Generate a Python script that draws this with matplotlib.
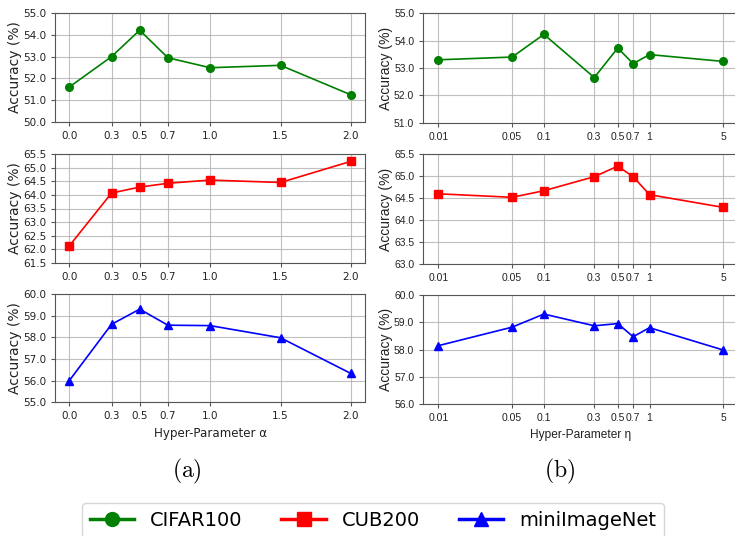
import matplotlib
matplotlib.use("Agg")
import matplotlib.pyplot as plt
from matplotlib.lines import Line2D
from matplotlib.ticker import NullLocator, FormatStrFormatter

plt.rcParams['mathtext.fontset'] = 'cm'

# Hyper-parameter alpha (left column)
alpha = [0.0, 0.3, 0.5, 0.7, 1.0, 1.5, 2.0]
alpha_labels = ['0.0', '0.3', '0.5', '0.7', '1.0', '1.5', '2.0']
cifar_alpha = [51.60, 53.00, 54.22, 52.95, 52.49, 52.60, 51.24]
cub_alpha = [62.12, 64.07, 64.29, 64.43, 64.55, 64.46, 65.24]
mini_alpha = [56.00, 58.60, 59.30, 58.56, 58.54, 57.98, 56.33]

# Hyper-parameter eta (right column)
eta = [0.01, 0.05, 0.1, 0.3, 0.5, 0.7, 1, 5]
eta_labels = ['0.01', '0.05', '0.1', '0.3', '0.5', '0.7', '1', '5']
cifar_eta = [53.30, 53.40, 54.23, 52.65, 53.73, 53.16, 53.49, 53.24]
cub_eta = [64.60, 64.52, 64.67, 64.99, 65.23, 64.99, 64.58, 64.29]
mini_eta = [58.14, 58.82, 59.30, 58.87, 58.95, 58.47, 58.80, 57.98]

series_names = ['CIFAR100', 'CUB200', 'miniImageNet']
colors = ['green', 'red', 'blue']
markers = ['o', 's', '^']

left_ylims = [(50.0, 55.0, 1.0), (61.5, 65.5, 0.5), (55.0, 60.0, 1.0)]
right_ylims = [(51.0, 55.0, 1.0), (63.0, 65.5, 0.5), (56.0, 60.0, 1.0)]

W, H = 735, 536
fig = plt.figure(figsize=(W / 100, H / 100), dpi=100)


def px_axes(x0, x1, y0, y1):
    # pixel box (top-left origin) -> figure axes
    return fig.add_axes([x0 / W, 1 - y1 / H, (x1 - x0) / W, (y1 - y0) / H])


def style(ax, family, lo, hi, step):
    n = int(round((hi - lo) / step))
    ax.set_ylim(lo, hi)
    ax.set_yticks([lo + i * step for i in range(n + 1)])
    ax.yaxis.set_major_formatter(FormatStrFormatter('%.1f'))
    ax.grid(True, color='#b0b0b0', lw=0.8, alpha=0.8)
    ax.set_axisbelow(True)
    for s in ax.spines.values():
        s.set_color('#555555')
    ax.tick_params(labelsize=7.5, colors='#555555', labelcolor='#222222',
                   length=3, width=0.8)
    for lbl in ax.get_xticklabels() + ax.get_yticklabels():
        lbl.set_fontfamily(family)
    ax.set_ylabel('Accuracy (%)', fontsize=10, family=family, color='#222222')


left_rows = [(13.3, 121.7), (154.3, 262.7), (294.0, 402.3)]
right_rows = [(13.3, 122.7), (154.3, 264.0), (295.0, 404.0)]
left_data = [cifar_alpha, cub_alpha, mini_alpha]
right_data = [cifar_eta, cub_eta, mini_eta]

for i in range(3):
    # left column: linear alpha axis
    ax = px_axes(55.2, 365.0, *left_rows[i])
    ax.plot(alpha, left_data[i], color=colors[i], marker=markers[i],
            ms=5.5, lw=1.2)
    ax.set_xlim(-0.1, 2.1)
    ax.set_xticks(alpha)
    ax.set_xticklabels(alpha_labels)
    style(ax, 'DejaVu Sans', *left_ylims[i])
    ax.yaxis.set_label_coords(-0.107, 0.5)
    if i == 2:
        ax.set_xlabel('Hyper-Parameter α', fontsize=8.6, color='#222222')

    # right column: log eta axis
    ax = px_axes(423.3, 737.6, *right_rows[i])
    ax.plot(eta, right_data[i], color=colors[i], marker=markers[i],
            ms=5.5, lw=1.2)
    ax.set_xscale('log')
    ax.set_xlim(10 ** -2.142, 10 ** 0.834)
    ax.set_xticks(eta)
    ax.set_xticklabels(eta_labels)
    ax.xaxis.set_minor_locator(NullLocator())
    style(ax, 'Liberation Sans', *right_ylims[i])
    ax.yaxis.set_label_coords(-0.095, 0.5)
    if i == 2:
        ax.set_xlabel('Hyper-Parameter η', fontsize=8.6, family='Liberation Sans',
                      color='#222222')

fig.text(186.7 / W, 1 - 471.7 / H, r'$\mathrm{(a)}$', fontsize=17,
         ha='center', va='center')
fig.text(560.0 / W, 1 - 471.7 / H, r'$\mathrm{(b)}$', fontsize=17,
         ha='center', va='center')

handles = [Line2D([], [], color=c, marker=m, ms=10, lw=2.5)
           for c, m in zip(colors, markers)]
fig.legend(handles, series_names, loc='upper center', ncol=3, fontsize=14,
           bbox_to_anchor=(372.8 / W, 1 - 503.3 / H), handlelength=2.3,
           columnspacing=2.0, handletextpad=0.8, borderaxespad=0)

fig.savefig('out.png', dpi=100)
